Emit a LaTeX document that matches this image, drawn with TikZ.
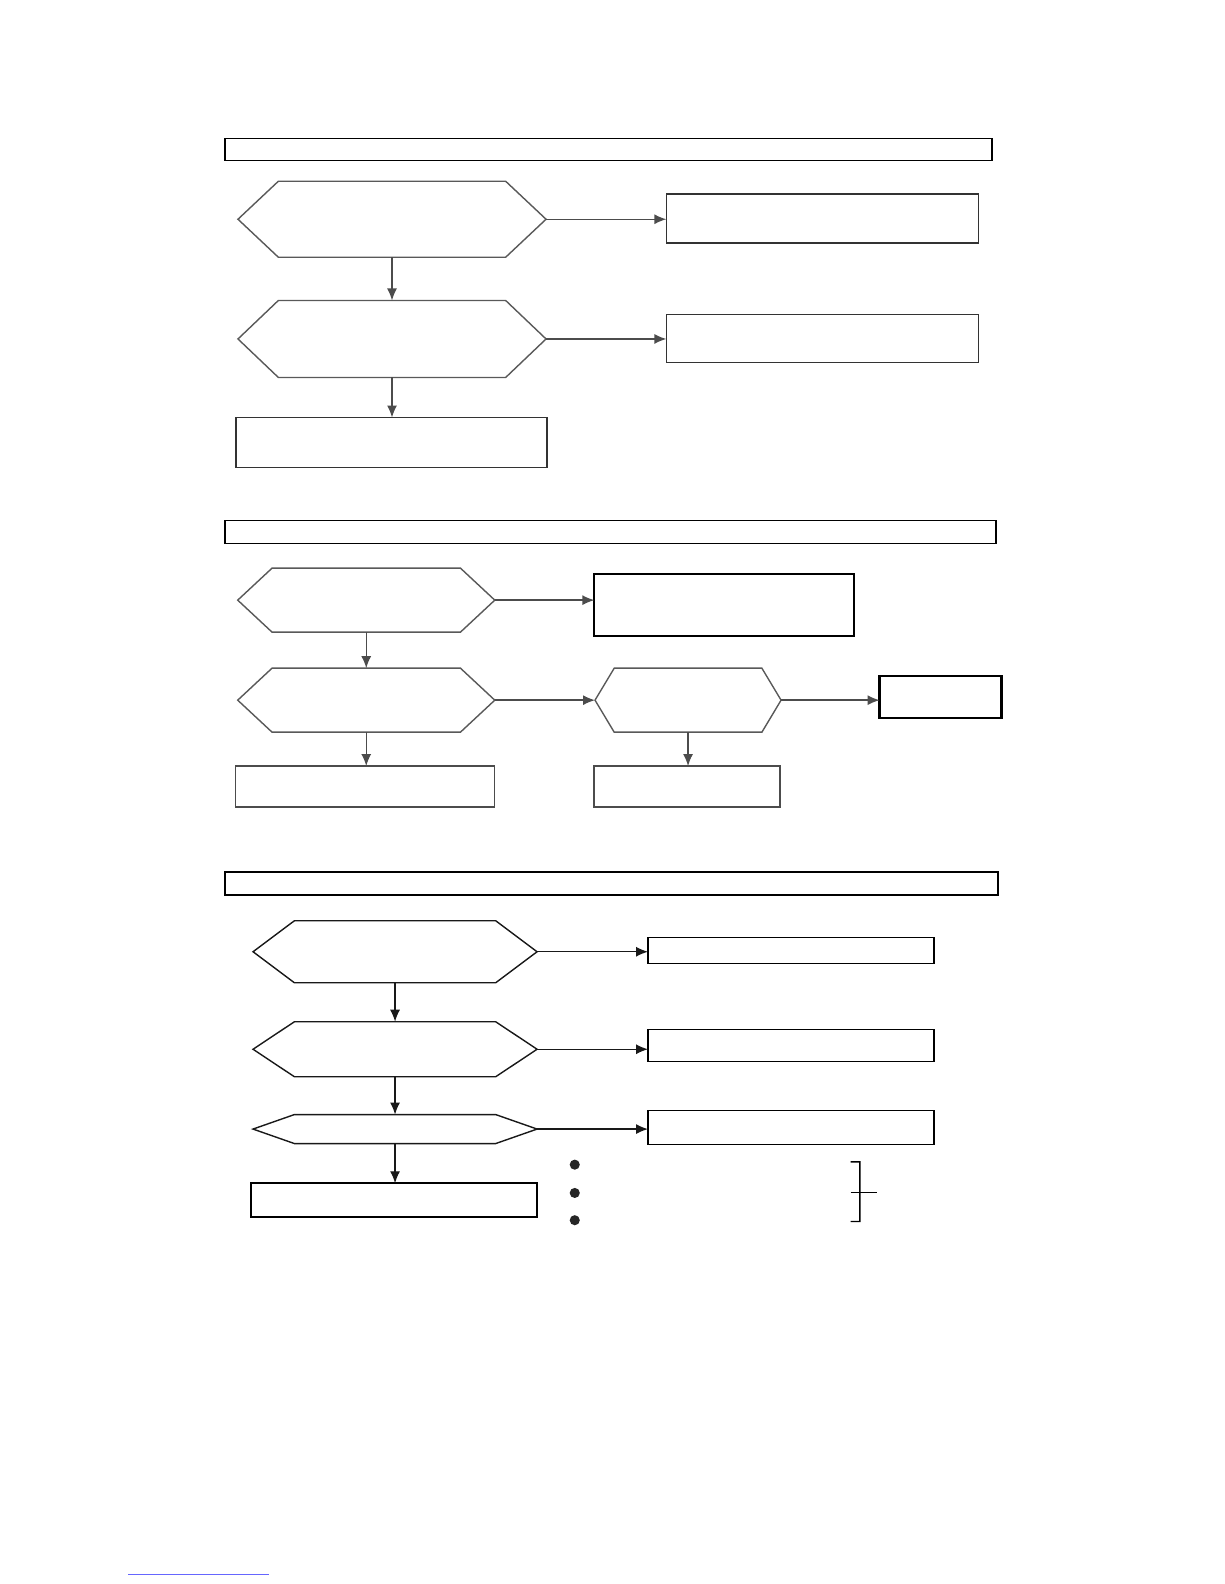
\documentclass[tikz,border=0pt]{standalone}
\usetikzlibrary{arrows.meta,calc}
\tikzset{
  frame/.style={inner sep=0pt,outer sep=0pt,draw=none},
  boxn/.style={frame,draw=black!80,line width=1.4pt},
  thickbox/.style={frame,draw=black,line width=2.3pt},
  hdr/.style={frame,draw=black,line width=1.4pt},
  hexline/.style={draw=black!65,line width=1.4pt},
  hexdark/.style={draw=black!90,line width=1.4pt},
  conn/.style={draw=black!70,line width=1.4pt,-{Latex[length=12pt,width=10pt]}},
  conndark/.style={draw=black!90,line width=1.4pt,-{Latex[length=12pt,width=10pt]}},
}
\newcommand\myhexdraw[3]{%
  \draw[#3] (#1.west) -- ([xshift=#2]#1.north west) -- ([xshift=-#2]#1.north east) -- (#1.east)
    -- ([xshift=-#2]#1.south east) -- ([xshift=#2]#1.south west) -- cycle;}
\begin{document}
\begin{tikzpicture}[x=1pt,y=-1pt]
\useasboundingbox (0,0) rectangle (1224,1584);
\fill[white] (0,0) rectangle (1224,1584);
\begin{scope}[scale=1.0101]
% ---------- Section 1 ----------
\node[hdr,minimum width=767pt,minimum height=22pt] (hdrA) at (602.5,148) {};
\node[frame,minimum width=308pt,minimum height=76pt] (h1) at (388,217) {};
\myhexdraw{h1}{40pt}{hexline}
\node[boxn,minimum width=312pt,minimum height=49pt] (b1) at (814,216.5) {};
\node[frame,minimum width=308pt,minimum height=77pt] (h2) at (388,335.5) {};
\myhexdraw{h2}{40pt}{hexline}
\node[boxn,minimum width=312pt,minimum height=48pt] (b2) at (814,335) {};
\node[boxn,minimum width=311pt,minimum height=50pt] (b3) at (387.5,438) {};
\draw[conn] (h1.east) -- (h1.east -| b1.west);
\draw[conn] (h2.east) -- (h2.east -| b2.west);
\draw[conn] (h1.south) -- (h2.north);
\draw[conn] (h2.south) -- (h2.south |- b3.north);

% ---------- Section 2 ----------
\node[hdr,minimum width=771pt,minimum height=23pt] (hdrB) at (604.5,526.5) {};
\node[frame,minimum width=257pt,minimum height=64pt] (hA) at (362.5,594) {};
\myhexdraw{hA}{34pt}{hexline}
\node[thickbox,minimum width=260pt,minimum height=62pt] (bA) at (717,599) {};
\node[frame,minimum width=257pt,minimum height=64pt] (hB) at (362.5,693) {};
\myhexdraw{hB}{34pt}{hexline}
\node[frame,minimum width=186pt,minimum height=64pt] (hC) at (681,693) {};
\myhexdraw{hC}{19pt}{hexline}
\node[thickbox,minimum width=122pt,minimum height=42pt] (bD) at (931,690) {};
\node[boxn,draw=black!70,minimum width=259pt,minimum height=41pt] (bE) at (361.5,778.5) {};
\node[boxn,draw=black!70,minimum width=186pt,minimum height=41pt] (bF) at (680,778.5) {};
\draw[conn] (hA.east) -- (hA.east -| bA.west);
\draw[conn] (hA.south) -- (hB.north);
\draw[conn] (hB.east) -- (hC.west);
\draw[conn] (hC.east) -- (hC.east -| bD.west);
\draw[conn] (hB.south) -- (hB.south |- bE.north);
\draw[conn] (hC.south) -- (hC.south |- bF.north);

% ---------- Section 3 ----------
\node[hdr,minimum width=773pt,minimum height=23pt] (hdrC) at (605.5,874.5) {};
\node[frame,minimum width=284pt,minimum height=62pt] (h3a) at (391,942) {};
\myhexdraw{h3a}{41pt}{hexdark}
\node[boxn,draw=black,minimum width=286pt,minimum height=26pt] (b3a) at (783,941) {};
\node[frame,minimum width=284pt,minimum height=55pt] (h3b) at (391,1038.5) {};
\myhexdraw{h3b}{41pt}{hexdark}
\node[boxn,draw=black,minimum width=286pt,minimum height=32pt] (b3b) at (783,1035) {};
\node[frame,minimum width=284pt,minimum height=29pt] (h3c) at (391,1117.5) {};
\myhexdraw{h3c}{41pt}{hexdark}
\node[boxn,draw=black,minimum width=286pt,minimum height=34pt] (b3c) at (783,1116) {};
\node[boxn,draw=black,minimum width=286pt,minimum height=34pt] (b3d) at (390,1188) {};
\draw[conndark] (h3a.east) -- (h3a.east -| b3a.west);
\draw[conndark] (h3b.east) -- (h3b.east -| b3b.west);
\draw[conndark] (h3c.east) -- (h3c.east -| b3c.west);
\draw[conndark] (h3a.south) -- (h3b.north);
\draw[conndark] (h3b.south) -- (h3c.north);
\draw[conndark] (h3c.south) -- (h3c.south |- b3d.north);

% bullets and bracket
\fill[black!85] (569,1153) circle (5pt);
\fill[black!85] (569,1181) circle (5pt);
\fill[black!85] (569,1208) circle (5pt);
\coordinate (brT) at (842,1150);
\coordinate (brB) at (842,1209);
\coordinate (brM) at (842,1180);
\draw[black,line width=1.4pt] (brT) -- ++(9,0) -- ++(0,59) -- (brB);
\draw[black,line width=1.4pt] (brM) -- ++(26,0);

% faint link underline
\coordinate (lnA) at (127,1558);
\coordinate (lnB) at (266,1558);
\draw[blue!60,line width=0.9pt] (lnA) -- (lnB);
\end{scope}
\end{tikzpicture}
\end{document}
